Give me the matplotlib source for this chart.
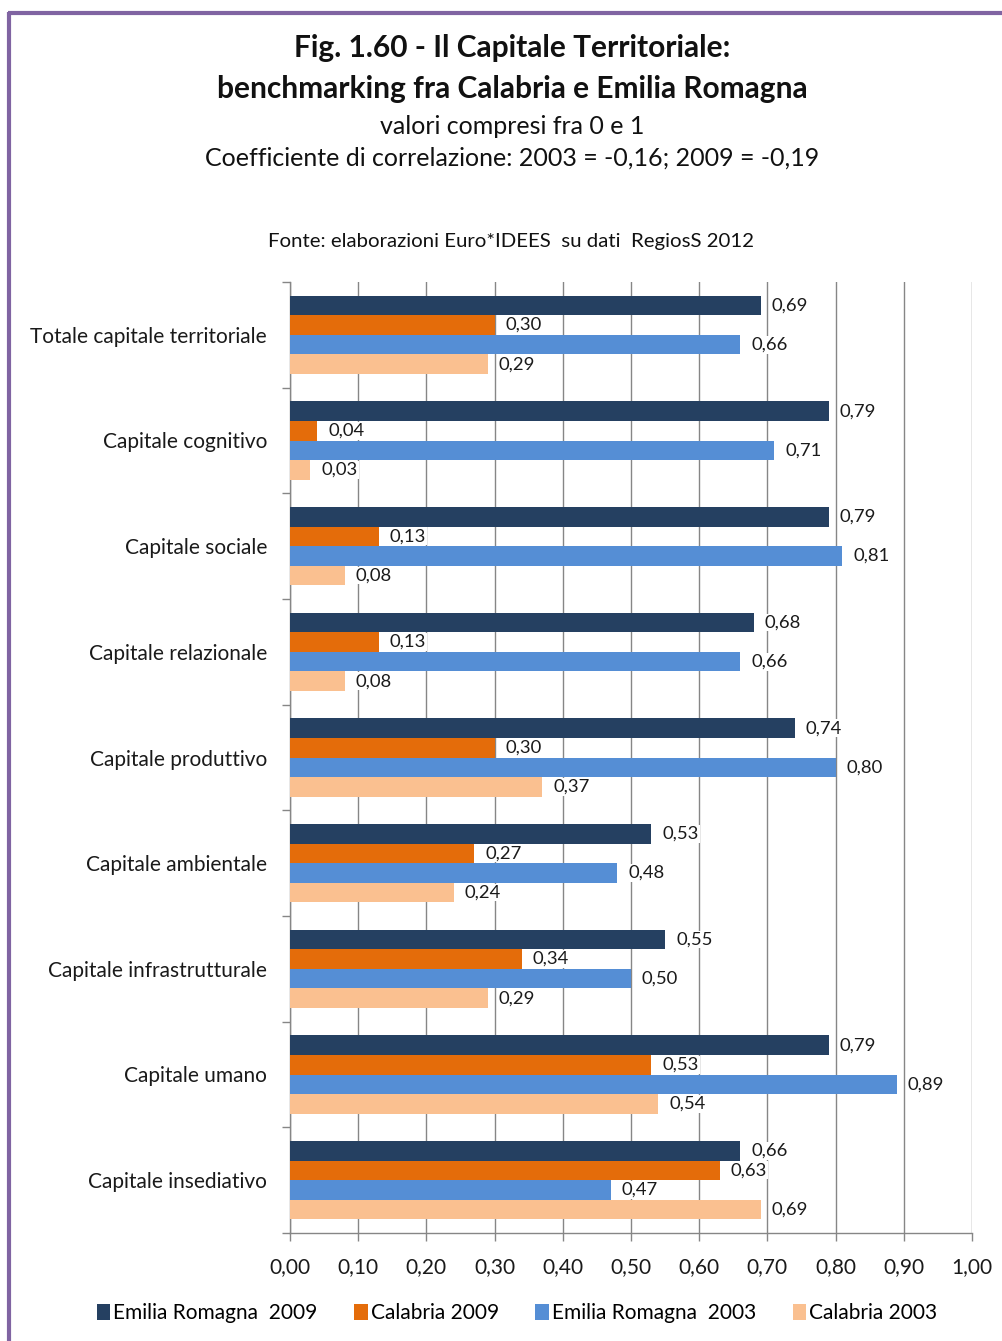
import matplotlib
matplotlib.use("Agg")
import matplotlib.pyplot as plt
import numpy as np
from matplotlib.lines import Line2D
from matplotlib.patches import Patch

plt.rcParams['font.family'] = ['Lato', 'DejaVu Sans']

categories = ["Totale capitale territoriale", "Capitale cognitivo", "Capitale sociale",
              "Capitale relazionale", "Capitale produttivo", "Capitale ambientale",
              "Capitale infrastrutturale", "Capitale umano", "Capitale insediativo"]
series_names = ["Emilia Romagna  2009", "Calabria 2009", "Emilia Romagna  2003", "Calabria 2003"]
er_2009 = [0.69, 0.79, 0.79, 0.68, 0.74, 0.53, 0.55, 0.79, 0.66]
cal_2009 = [0.30, 0.04, 0.13, 0.13, 0.30, 0.27, 0.34, 0.53, 0.63]
er_2003 = [0.66, 0.71, 0.81, 0.66, 0.80, 0.48, 0.50, 0.89, 0.47]
cal_2003 = [0.29, 0.03, 0.08, 0.08, 0.37, 0.24, 0.29, 0.54, 0.69]
x_ticks = [0.0, 0.1, 0.2, 0.3, 0.4, 0.5, 0.6, 0.7, 0.8, 0.9, 1.0]

colors = ["#254061", "#E46C0A", "#558ED5", "#FAC090"]
series = [er_2009, cal_2009, er_2003, cal_2003]

W, H = 1003, 1341
fig = plt.figure(figsize=(W / 100, H / 100), dpi=100)
fig.patch.set_facecolor("white")

ax = fig.add_axes([290 / W, 1 - 1233 / H, 682 / W, (1233 - 282) / H])

n = len(categories)
y = np.arange(n)
bh = 0.185
offsets = [-1.5 * bh, -0.5 * bh, 0.5 * bh, 1.5 * bh]

for s, vals, col, off in zip(series_names, series, colors, offsets):
    ax.barh(y + off, vals, height=bh, color=col, edgecolor="none", zorder=3, label=s)
    for yi, v in zip(y, vals):
        ax.text(v + 0.016, yi + off, f"{v:.2f}".replace(".", ","), va="center", ha="left",
                fontsize=13.3, color="#1a1a1a", zorder=4,
                bbox=dict(boxstyle="square,pad=0.05", fc="white", ec="none"))

ax.set_xlim(0, 1.0)
ax.set_ylim(n - 0.5, -0.5)
ax.set_xticks(x_ticks)
ax.set_xticklabels([f"{t:.2f}".replace(".", ",") for t in x_ticks], fontsize=15, color="#1a1a1a")
ax.set_yticks(y)
ax.set_yticklabels(categories, fontsize=15, color="#1a1a1a")
ax.set_yticks(np.arange(-0.5, n, 1.0), minor=True)
ax.tick_params(axis="y", which="major", length=0, pad=16.5)
ax.tick_params(axis="y", which="minor", length=6, color="#868686", width=1)
ax.tick_params(axis="x", which="major", length=6, color="#868686", width=1, pad=11)

ax.grid(axis="x", color="#868686", linewidth=1, zorder=0)
ax.set_axisbelow(True)
for sp in ["top", "right"]:
    ax.spines[sp].set_visible(False)
for sp in ["left", "bottom"]:
    ax.spines[sp].set_color("#868686")
    ax.spines[sp].set_linewidth(1)

# titles
fig.text(512 / W, 1 - 48 / H, "Fig. 1.60 - Il Capitale Territoriale:", ha="center", va="center",
         fontsize=21.5, fontweight="bold", color="#111111")
fig.text(512 / W, 1 - 89 / H, "benchmarking fra Calabria e Emilia Romagna", ha="center", va="center",
         fontsize=21.5, fontweight="bold", color="#111111")
fig.text(512 / W, 1 - 126 / H, "valori compresi fra 0 e 1", ha="center", va="center",
         fontsize=18, color="#111111")
fig.text(512 / W, 1 - 158 / H, "Coefficiente di correlazione: 2003 = -0,16; 2009 = -0,19", ha="center",
         va="center", fontsize=18, color="#111111")
fig.text(511 / W, 1 - 241 / H, "Fonte: elaborazioni Euro*IDEES  su dati  RegiosS 2012", ha="center",
         va="center", fontsize=14.7, color="#111111")

# legend
handles = [Patch(facecolor=c, edgecolor="none") for c in colors]
fig.legend(handles, series_names, loc="center", bbox_to_anchor=(517 / W, 1 - 1313 / H), ncol=4,
           frameon=False, fontsize=15, handlelength=0.65, handleheight=0.8, handletextpad=0.15,
           columnspacing=1.75)

# purple frame
frame_col = "#8064A2"
fig.add_artist(Line2D([9 / W, 9 / W], [0, 1 - 12 / H], color=frame_col, linewidth=3,
                      transform=fig.transFigure, solid_capstyle="butt"))
fig.add_artist(Line2D([8 / W, 1], [1 - 13 / H, 1 - 13 / H], color=frame_col, linewidth=3,
                      transform=fig.transFigure, solid_capstyle="butt"))

fig.savefig("out.png", dpi=100)
